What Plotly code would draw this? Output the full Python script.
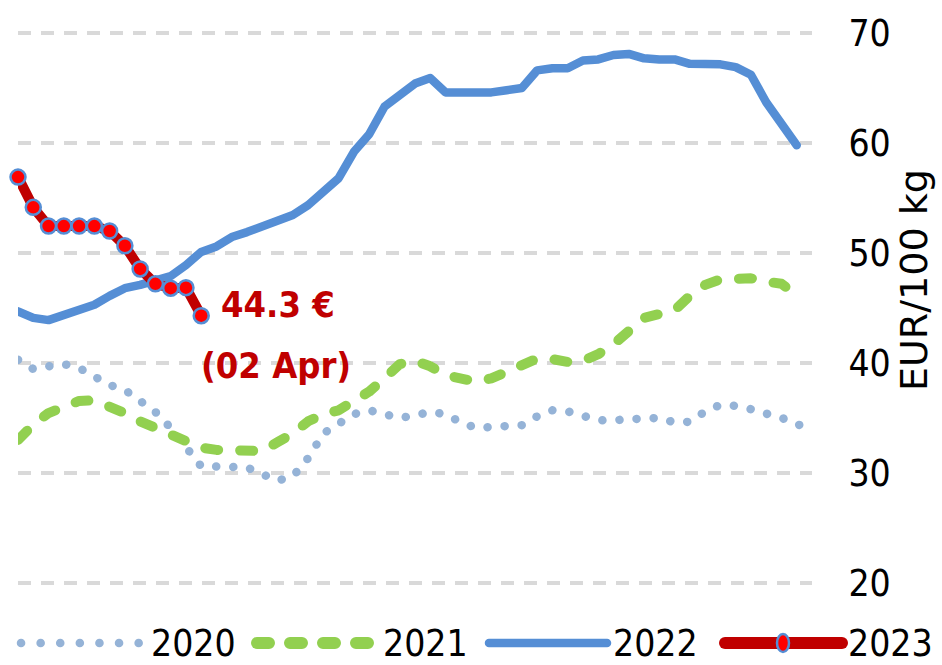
import plotly.graph_objects as go

# ---------------- data ----------------
series_names = ["2020", "2021", "2022", "2023"]

weeks_2020 = list(range(1, 54))
values_2020 = [40.3, 39.45, 39.7, 39.9, 39.55, 38.8, 38.0, 37.55, 36.55, 35.55,
               34.1, 32.2, 30.6, 30.6, 30.5, 30.5, 29.9, 29.3, 29.7, 31.35,
               33.6, 34.45, 35.35, 35.7, 35.25, 35.0, 35.25, 35.55, 35.35, 34.6,
               34.1, 34.2, 34.2, 34.35, 35.15, 35.7, 35.6, 35.25, 34.8, 34.8,
               34.8, 34.95, 35.0, 34.6, 34.65, 35.6, 36.2, 36.1, 35.8, 35.45,
               35.0, 34.55, 33.45]

weeks_2021 = list(range(1, 53))
values_2021 = [33.0, 34.4, 35.45, 36.1, 36.55, 36.6, 36.1, 35.45, 34.7, 34.1,
               33.45, 32.8, 32.3, 32.1, 32.0, 31.9, 32.0, 32.8, 33.6, 34.7,
               35.35, 35.7, 36.55, 37.4, 38.6, 39.9, 40.2, 39.7, 38.9, 38.6,
               38.3, 38.6, 39.15, 39.8, 40.4, 40.35, 40.1, 40.2, 40.8, 41.7,
               42.8, 44.1, 44.45, 44.8, 46.1, 47.1, 47.6, 47.7, 47.7, 47.4,
               47.2, 46.2]

weeks_2022 = list(range(1, 53))
values_2022 = [44.7, 44.1, 43.9, 44.3, 44.7, 45.3, 46.1, 46.8, 47.1, 47.45,
               47.9, 48.9, 50.1, 50.6, 51.45, 51.9, 52.4, 52.8, 53.45, 54.35,
               55.5, 56.8, 59.2, 60.8, 63.3, 64.4, 65.4, 65.9, 64.6, 64.6,
               64.6, 64.6, 64.8, 65.0, 66.6, 66.8, 66.8, 67.5, 67.6, 68.0,
               68.1, 67.7, 67.6, 67.6, 67.2, 67.15, 67.15, 66.9, 66.2, 63.7,
               61.6, 59.8]

weeks_2023 = list(range(1, 14))
values_2023 = [56.9, 54.15, 52.45, 52.45, 52.45, 52.45, 52.0, 50.66, 48.55,
               47.2, 46.8, 46.85, 44.3]
last_label_date = "02 Apr"

y_ticks = [20, 30, 40, 50, 60, 70]
y_title = "EUR/100 kg"

# ---------------- style ----------------
C2020 = "#95b3d7"
C2021 = "#92d050"
C2022 = "#558ed5"
C2023 = "#c00000"
MARK = "#ff0000"
FONT = "DejaVu Sans Condensed, Liberation Sans, sans-serif"

W, H = 942, 665
# y range [19, 71] so that 70 sits at y=33 px and 20 at y=583 px (11 px / unit)
ML, MR, MT, MB = 18, 130, 22, 71
PW, PH = W - ML - MR, H - MT - MB


def px_x(x):
    return (x - ML) / PW


def px_y(y):
    return (H - MB - y) / PH


fig = go.Figure()

fig.add_trace(go.Scatter(x=weeks_2020, y=values_2020, mode="lines", name="2020",
                         line=dict(color=C2020, width=8.5, dash="0.1px,17px"),
                         showlegend=False))
fig.add_trace(go.Scatter(x=weeks_2021, y=values_2021, mode="lines", name="2021",
                         line=dict(color=C2021, width=10, dash="13px,22px"),
                         showlegend=False))
fig.add_trace(go.Scatter(x=weeks_2022, y=values_2022, mode="lines", name="2022",
                         line=dict(color=C2022, width=8.5),
                         showlegend=False))
fig.add_trace(go.Scatter(x=weeks_2023, y=values_2023, mode="lines+markers", name="2023",
                         line=dict(color=C2023, width=10),
                         marker=dict(symbol="circle", size=15, color=MARK,
                                     line=dict(color=C2022, width=2.5)),
                         cliponaxis=False, showlegend=False))

# annotation of last 2023 value
fig.add_annotation(x=weeks_2023[-1], y=values_2023[-1], xref="x", yref="y",
                   text=f"{values_2023[-1]:.1f} €", showarrow=False,
                   xshift=77, yshift=11,
                   font=dict(family=FONT, size=36, color=C2023, weight="bold"))
fig.add_annotation(x=weeks_2023[-1], y=values_2023[-1], xref="x", yref="y",
                   text=f"({last_label_date})", showarrow=False,
                   xshift=75, yshift=-50,
                   font=dict(family=FONT, size=36, color=C2023, weight="bold"))

# y-axis title
fig.add_annotation(x=px_x(914), y=px_y(280), xref="paper", yref="paper",
                   text=y_title, textangle=-90, showarrow=False,
                   xanchor="center", yanchor="middle",
                   font=dict(family="DejaVu Sans, sans-serif", size=38, color="#000000"))

# custom legend
leg_y = px_y(643)
legend_items = [
    (21, 139, dict(color=C2020, width=8.5, dash="0.1px,19.5px")),
    (257, 377, dict(color=C2021, width=12, dash="12px,21px")),
    (489, 607, dict(color=C2022, width=8.5)),
    (725, 842, dict(color=C2023, width=12)),
]
text_x = [149, 381, 611, 846]
for (x0, x1, ln), tx, name in zip(legend_items, text_x, series_names):
    fig.add_shape(type="line", xref="paper", yref="paper",
                  x0=px_x(x0), x1=px_x(x1), y0=leg_y, y1=leg_y, line=ln)
    fig.add_annotation(x=px_x(tx), y=leg_y, xref="paper", yref="paper",
                       text=name, showarrow=False, xanchor="left", yanchor="middle",
                       font=dict(family=FONT, size=37, color="#000000"))
fig.add_shape(type="circle", xref="paper", yref="paper",
              x0=px_x(777), x1=px_x(789), y0=px_y(652), y1=px_y(634),
              fillcolor=MARK, line=dict(color=C2022, width=2.5))

fig.update_layout(
    width=W, height=H,
    margin=dict(l=ML, r=MR, t=MT, b=MB, autoexpand=False),
    paper_bgcolor="white", plot_bgcolor="white",
    xaxis=dict(range=[1, 53], showgrid=False, zeroline=False, showline=False,
               showticklabels=False, ticks=""),
    yaxis=dict(range=[19, 71], side="right", tickvals=y_ticks,
               showgrid=True, gridcolor="#d9d9d9", gridwidth=4, griddash="13px,10px",
               zeroline=False, showline=False,
               ticks="outside", ticklen=28, tickcolor="rgba(0,0,0,0)",
               tickfont=dict(family=FONT, size=37, color="#000000")),
    showlegend=False,
)

post = """
document.body.style.margin = '0';
document.body.style.overflow = 'hidden';
var gd = document.getElementById('{plot_id}');
function rc(){
  gd.querySelectorAll('.scatterlayer .js-line, .shapelayer path').forEach(function(p){
    p.style.strokeLinecap = 'round'; p.style.strokeLinejoin = 'round';
  });
}
rc();
gd.on('plotly_afterplot', rc);
"""

fig.write_html("out.html", post_script=post, config={"displayModeBar": False})
